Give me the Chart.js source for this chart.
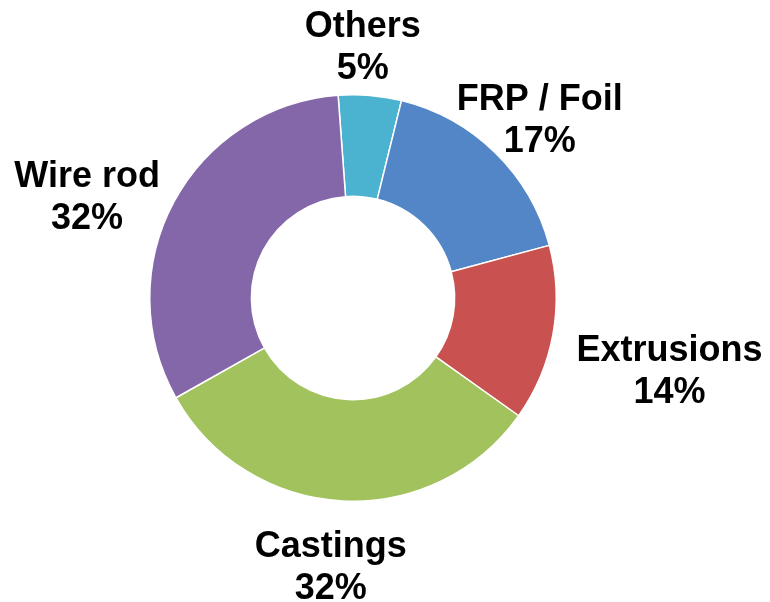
<!DOCTYPE html>
<html>
<head>
<meta charset="utf-8">
<script src="https://cdn.jsdelivr.net/npm/chart.js@4/dist/chart.umd.min.js"></script>
<style>
    html, body { margin: 0; padding: 0; background: #ffffff; }
    canvas { display: block; }
</style>
</head>
<body>
<canvas id="share-chart" width="770" height="602"></canvas>
<script>
// share of aluminium use by product (percent)
let labels = ['Others', 'FRP / Foil', 'Extrusions', 'Castings', 'Wire rod'];
let shares = [5, 17, 14, 32, 32];
let colors = ['#4bb2cf', '#5386c6', '#c9514f', '#a1c25c', '#8467a8'];

// draws "name\nNN%" outside each slice
let outsideLabels = {
    id: 'outsideLabels',
    afterDatasetsDraw: function (chart, args, opts) {
        let ctx = chart.ctx;
        let meta = chart.getDatasetMeta(0);
        let lineGap = 42;
        ctx.save();
        ctx.font = 'bold 36px "Liberation Sans", Arial, sans-serif';
        ctx.fillStyle = '#000000';
        ctx.textAlign = 'center';
        ctx.textBaseline = 'alphabetic';
        meta.data.forEach(function (arc, i) {
            let p = arc.getProps(['x', 'y', 'startAngle', 'endAngle', 'outerRadius'], true);
            let mid = (p.startAngle + p.endAngle) / 2;
            let dx = Math.cos(mid);
            let dy = Math.sin(mid);
            let line1 = labels[i];
            let line2 = shares[i] + '%';
            let halfW = Math.max(ctx.measureText(line1).width, ctx.measureText(line2).width) / 2;
            let halfH = 34;
            let r = p.outerRadius + opts.gap;
            let nudge = opts.nudges[i];
            let cx = p.x + dx * r + dx * halfW + nudge[0];
            let cy = p.y + dy * r + dy * halfH + nudge[1];
            let base = cy - 8;
            ctx.fillText(line1, cx, base);
            ctx.fillText(line2, cx, base + lineGap);
        });
        ctx.restore();
    }
};

new Chart(document.getElementById('share-chart').getContext('2d'), {
    type: 'doughnut',
    data: {
        labels: labels,
        datasets: [
            {
                data: shares,
                backgroundColor: colors,
                borderColor: '#ffffff',
                borderWidth: 1.5,
                hoverOffset: 0
            }
        ]
    },
    options: {
        responsive: false,
        animation: false,
        cutout: '50%',
        rotation: -4.2,
        layout: {
            padding: { left: 149, right: 213, top: 94, bottom: 100 }
        },
        plugins: {
            legend: { display: false },
            tooltip: { enabled: false },
            outsideLabels: {
                gap: 12,
                nudges: [[-13, -5], [-22, -2], [13, 27], [-7, 18], [-12, 15]]
            }
        }
    },
    plugins: [outsideLabels]
});
</script>
</body>
</html>
